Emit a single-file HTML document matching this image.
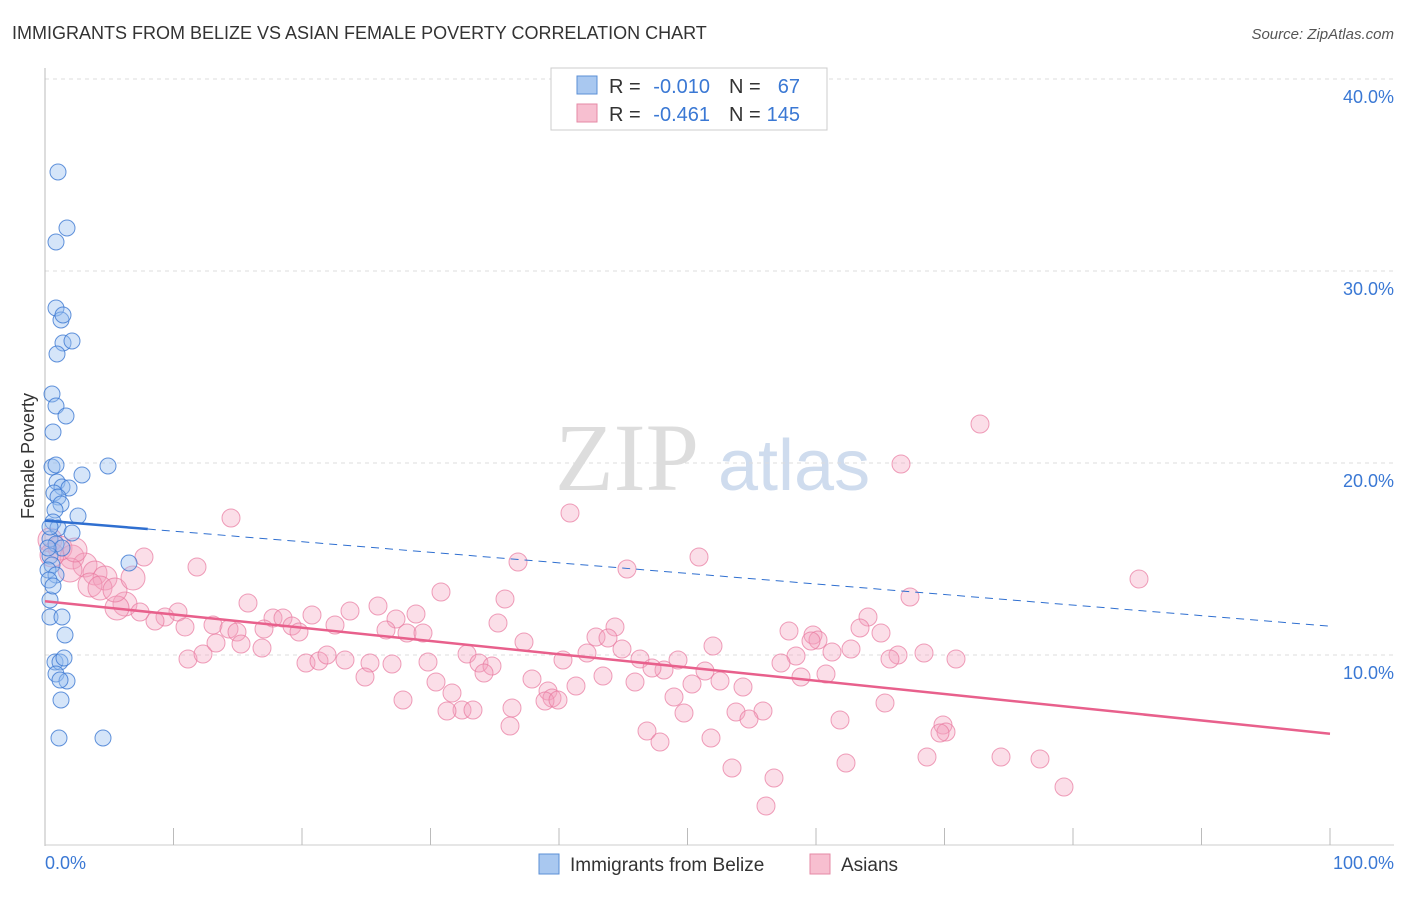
<!DOCTYPE html>
<html><head><meta charset="utf-8"><style>
body{margin:0;background:#fff;font-family:"Liberation Sans",sans-serif}
</style></head><body>
<svg width="1406" height="892" xmlns="http://www.w3.org/2000/svg">
<text x="12" y="39" font-size="18" fill="#333">IMMIGRANTS FROM BELIZE VS ASIAN FEMALE POVERTY CORRELATION CHART</text>
<text x="1394" y="39" font-size="15" fill="#555" font-style="italic" text-anchor="end">Source: ZipAtlas.com</text>
<text x="555" y="490" font-size="96" fill="#ddd" font-family="Liberation Serif,serif">ZIP</text>
<text x="718" y="490" font-size="72" fill="#cfdcee">atlas</text>
<g id="grid"></g>
<line x1="45" y1="68" x2="45" y2="846" stroke="#bbb"/>
<line x1="45" y1="845" x2="1394" y2="845" stroke="#ccc"/>
<g id="xt"></g>
<text x="45" y="869" font-size="18" fill="#3a78d4">0.0%</text>
<text x="1394" y="869" font-size="18" fill="#3a78d4" text-anchor="end">100.0%</text>
<text x="34" y="456" font-size="18" fill="#333" text-anchor="middle" transform="rotate(-90 34 456)">Female Poverty</text>
<g id="pts"></g>
<g id="lines"></g>
<g>
<rect x="551" y="68" width="276" height="62" fill="#fff" stroke="#ccc"/>
<rect x="577" y="76" width="20" height="18" fill="#a9c8f0" stroke="#5b8fd6"/>
<rect x="577" y="104" width="20" height="18" fill="#f7bfd0" stroke="#e58aa6"/>
<text x="609" y="93" font-size="20" fill="#333">R =</text>
<text x="710" y="93" font-size="20" fill="#3a78d4" text-anchor="end">-0.010</text>
<text x="729" y="93" font-size="20" fill="#333">N =</text>
<text x="800" y="93" font-size="20" fill="#3a78d4" text-anchor="end">67</text>
<text x="609" y="121" font-size="20" fill="#333">R =</text>
<text x="710" y="121" font-size="20" fill="#3a78d4" text-anchor="end">-0.461</text>
<text x="729" y="121" font-size="20" fill="#333">N =</text>
<text x="800" y="121" font-size="20" fill="#3a78d4" text-anchor="end">145</text>
</g>
<g>
<rect x="539" y="854" width="20" height="20" fill="#a9c8f0" stroke="#5b8fd6"/>
<text x="570" y="871" font-size="19" fill="#333">Immigrants from Belize</text>
<rect x="810" y="854" width="20" height="20" fill="#f7bfd0" stroke="#e58aa6"/>
<text x="841" y="871" font-size="19" fill="#333">Asians</text>
</g>
</svg>
<script>
const yTicks=[10,20,30,40];
const xTicks=[10,20,30,40,50,60,70,80,90,100];
const bluePx=[[58,172],[67,228],[56,242],[56,308],[61,320],[63,315],[63,343],[72,341],[57,354],[52,394],[56,406],[66,416],[53,432],[108,466],[52,467],[82,475],[57,482],[62,487],[54,493],[69,488],[58,497],[61,504],[55,510],[78,516],[53,522],[58,528],[72,533],[50,539],[56,544],[62,548],[50,556],[52,565],[48,570],[56,575],[49,580],[129,563],[50,600],[50,617],[62,617],[65,635],[55,662],[60,662],[64,658],[56,674],[67,681],[60,680],[61,700],[59,738],[103,738],[50,527],[48,548],[53,586],[56,465]];
const pinkPx=[[980,424],[901,464],[570,513],[231,518],[144,557],[518,562],[699,557],[627,569],[1139,579],[197,567],[910,597],[441,592],[505,599],[248,603],[378,606],[416,614],[615,627],[868,617],[312,615],[273,618],[283,618],[350,611],[396,619],[178,612],[165,617],[125,604],[117,608],[155,621],[140,612],[185,627],[213,625],[229,629],[237,632],[264,629],[292,626],[299,632],[335,625],[386,630],[407,633],[423,633],[498,623],[524,642],[596,637],[608,638],[713,646],[789,631],[813,635],[818,640],[860,628],[881,633],[811,641],[851,649],[832,652],[898,655],[924,653],[956,659],[188,659],[203,654],[216,643],[241,644],[262,648],[306,663],[319,661],[327,655],[345,660],[370,663],[392,664],[428,662],[467,654],[479,663],[492,666],[484,673],[563,660],[587,653],[622,649],[640,659],[678,660],[705,671],[664,670],[652,668],[796,656],[781,663],[826,674],[890,659],[801,677],[365,677],[436,682],[452,693],[532,679],[576,686],[603,676],[635,682],[720,681],[743,687],[674,697],[692,684],[403,700],[548,691],[552,698],[545,701],[558,700],[512,708],[462,710],[447,711],[473,710],[684,713],[736,712],[763,711],[749,719],[840,720],[885,703],[510,726],[647,731],[660,742],[711,738],[943,725],[946,732],[940,733],[846,763],[927,757],[1001,757],[1040,759],[732,768],[774,778],[766,806],[1064,787],[50,540],[60,548],[72,557],[85,565],[95,573],[105,578],[70,570],[90,585],[100,588],[115,590],[133,578],[52,555],[75,550]];
const bx=p=>45+p*12.85, by=v=>847-v*19.2;
const toData=a=>a.map(([x,y])=>[(x-45)/12.85,(847-y)/19.2]);
const blueX=toData(bluePx).map(d=>d[0]), blueY=toData(bluePx).map(d=>d[1]);
const pinkX=toData(pinkPx).map(d=>d[0]), pinkY=toData(pinkPx).map(d=>d[1]);
const blueFit=[17.0,11.5], pinkFit=[12.8,5.9];
const NS='http://www.w3.org/2000/svg';
function mk(t,a,parent){const e=document.createElementNS(NS,t);for(const k in a)e.setAttribute(k,a[k]);document.getElementById(parent).appendChild(e);return e;}
yTicks.forEach(v=>{
 const l=mk('line',{x1:45,x2:1394,y1:by(v),y2:by(v),stroke:'#ddd','stroke-dasharray':'4 4'},'grid');
 
 
 const t=mk('text',{x:1394,y:by(v)+24,'font-size':18,fill:'#3a78d4','text-anchor':'end'},'grid');
 t.textContent=v.toFixed(1)+'%';
 
 
});
xTicks.forEach(v=>{
 const l=mk('line',{x1:bx(v),x2:bx(v),y1:828,y2:845,stroke:'#bbb'},'xt');
 
 
});
pinkX.forEach((x,i)=>{
 const c=mk('circle',{cx:bx(x),cy:by(pinkY[i]),r:bx(x)<140?12:9,fill:'rgba(244,160,188,0.35)',stroke:'rgba(232,120,158,0.7)','stroke-width':1},'pts');
 
 
});
blueX.forEach((x,i)=>{
 const c=mk('circle',{cx:bx(x),cy:by(blueY[i]),r:8,fill:'rgba(150,190,240,0.4)',stroke:'rgba(60,120,210,0.8)','stroke-width':1},'pts');
 
 
});
const bAt=x=>blueFit[0]+(blueFit[1]-blueFit[0])*x/100;
let l=mk('line',{x1:bx(0),y1:by(bAt(0)),x2:bx(8),y2:by(bAt(8)),stroke:'#2f6fd0','stroke-width':2.5},'lines');


l=mk('line',{x1:bx(8),y1:by(bAt(8)),x2:bx(100),y2:by(bAt(100)),stroke:'#2f6fd0','stroke-width':1,'stroke-dasharray':'8 6'},'lines');


l=mk('line',{x1:bx(0),y1:by(pinkFit[0]),x2:bx(100),y2:by(pinkFit[1]),stroke:'#e8608c','stroke-width':2.5},'lines');


</script>
</body></html>
